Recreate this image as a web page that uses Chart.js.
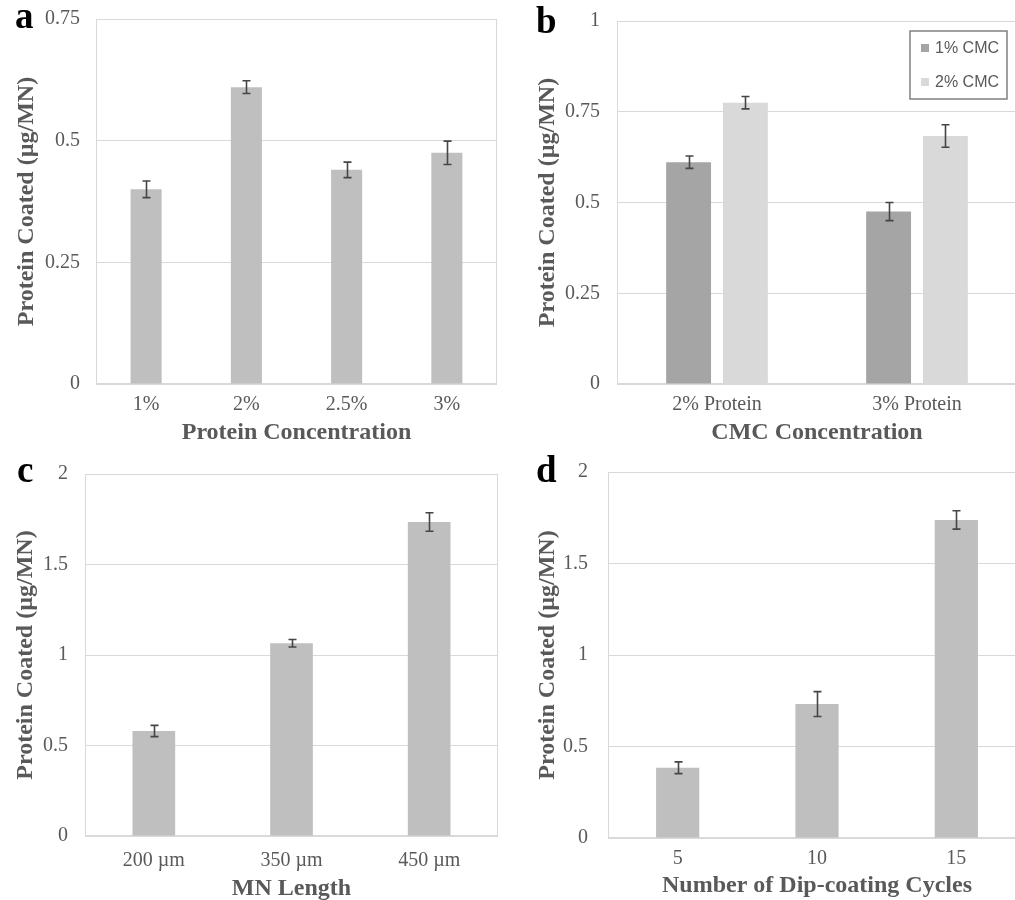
<!DOCTYPE html>
<html>
<head>
<meta charset="utf-8">
<script src="https://cdn.jsdelivr.net/npm/chart.js@4.4.0/dist/chart.umd.min.js"></script>
<style>
  html, body { margin: 0; padding: 0; background: #fff; width: 1015px; height: 900px; overflow: hidden; position: relative; }
  canvas { position: absolute; }
</style>
</head>
<body>
<canvas id="panelA" width="500" height="450" style="left:0;top:0"></canvas>
<canvas id="panelB" width="530" height="450" style="left:500px;top:0"></canvas>
<canvas id="panelC" width="500" height="470" style="left:0;top:450px"></canvas>
<canvas id="panelD" width="530" height="470" style="left:500px;top:450px"></canvas>
<script>
// (a) protein concentration
const concLabels = ['1%', '2%', '2.5%', '3%'];
const concValues = [0.40, 0.61, 0.44, 0.475];
const concErrors = [0.017, 0.013, 0.016, 0.024];

// (b) CMC concentration
const cmcLabels = ['2% Protein', '3% Protein'];
const cmc1Values = [0.611, 0.475];
const cmc1Errors = [0.017, 0.025];
const cmc2Values = [0.775, 0.683];
const cmc2Errors = [0.017, 0.031];

// (c) microneedle length
const lengthLabels = ['200 µm', '350 µm', '450 µm'];
const lengthValues = [0.58, 1.065, 1.735];
const lengthErrors = [0.031, 0.021, 0.051];

// (d) dip-coating cycles
const cycleLabels = ['5', '10', '15'];
const cycleValues = [0.384, 0.732, 1.738];
const cycleErrors = [0.032, 0.068, 0.05];

// y-axis tick values
const ticksA = [0, 0.25, 0.5, 0.75];
const ticksB = [0, 0.25, 0.5, 0.75, 1];
const ticksCD = [0, 0.5, 1, 1.5, 2];

const TEXT = '#595959';
const GRID = '#d9d9d9';
const SERIF = '"Liberation Serif", "Times New Roman", serif';

Chart.defaults.animation = false;
Chart.defaults.devicePixelRatio = 1;

// light frame around the plotting area
const frame = {
  id: 'frame',
  beforeDatasetsDraw(chart) {
    const { ctx, chartArea: a } = chart;
    ctx.save();
    ctx.strokeStyle = GRID;
    ctx.lineWidth = 1;
    ctx.strokeRect(Math.round(a.left) + 0.5, Math.round(a.top) + 0.5,
      Math.round(a.right - a.left) - 1, Math.round(a.bottom - a.top) - 1);
    ctx.restore();
  }
};

// symmetric error bars with caps
const errorBars = {
  id: 'errorBars',
  afterDatasetsDraw(chart) {
    const { ctx } = chart;
    const y = chart.scales.y;
    ctx.save();
    ctx.strokeStyle = '#454545';
    ctx.lineWidth = 1.6;
    chart.data.datasets.forEach((ds, i) => {
      if (!ds.errors) return;
      chart.getDatasetMeta(i).data.forEach((bar, j) => {
        const v = ds.data[j], e = ds.errors[j];
        const t = y.getPixelForValue(v + e), b = y.getPixelForValue(v - e);
        const x = Math.round(bar.x) + 0.5;
        ctx.beginPath();
        ctx.moveTo(x, t); ctx.lineTo(x, b);
        ctx.moveTo(x - 4, t); ctx.lineTo(x + 4, t);
        ctx.moveTo(x - 4, b); ctx.lineTo(x + 4, b);
        ctx.stroke();
      });
    });
    ctx.restore();
  }
};

// bold panel letter
const panelLetter = {
  id: 'panelLetter',
  afterDraw(chart, args, opts) {
    const { ctx } = chart;
    ctx.save();
    ctx.fillStyle = '#000';
    ctx.font = 'bold 37px ' + SERIF;
    ctx.textBaseline = 'alphabetic';
    ctx.fillText(opts.text, opts.x, opts.y);
    ctx.restore();
  }
};

// boxed legend in the top-right corner of the plot
const boxLegend = {
  id: 'boxLegend',
  afterDraw(chart, args, opts) {
    if (!opts.show) return;
    const { ctx, chartArea: a } = chart;
    const w = 97, h = 68;
    const x0 = a.right - 107, y0 = a.top + 10;
    ctx.save();
    ctx.strokeStyle = '#808080';
    ctx.lineWidth = 1.5;
    ctx.strokeRect(x0, y0, w, h);
    ctx.font = '16px "Liberation Sans", Arial, sans-serif';
    ctx.textBaseline = 'middle';
    chart.data.datasets.forEach((ds, i) => {
      const cy = y0 + 17 + i * 34;
      ctx.fillStyle = ds.backgroundColor;
      ctx.fillRect(x0 + 11, cy - 4, 8, 8);
      ctx.fillStyle = TEXT;
      ctx.fillText(ds.label, x0 + 25, cy + 1);
    });
    ctx.restore();
  }
};

function panel(id, labels, datasets, yTicks, xTitle, geo, bars) {
  new Chart(document.getElementById(id), {
    type: 'bar',
    data: { labels, datasets },
    options: {
      responsive: false,
      layout: { padding: { left: geo.padLeft, top: geo.padTop, right: geo.padRight, bottom: 0 } },
      datasets: { bar: { categoryPercentage: bars.cat, barPercentage: bars.bar } },
      plugins: {
        legend: { display: false },
        tooltip: { enabled: false },
        panelLetter: { text: geo.letter, x: geo.letterX, y: geo.letterY },
        boxLegend: { show: !!geo.legend }
      },
      scales: {
        x: {
          afterFit: s => { s.height = geo.xHeight; s.paddingLeft = 0; s.paddingRight = 0; },
          grid: { display: false, drawTicks: false },
          border: { display: false },
          ticks: { padding: geo.xTickPad, color: TEXT, font: { family: SERIF, size: 20 }, maxRotation: 0, autoSkip: false },
          title: { display: true, text: xTitle, color: TEXT, font: { family: SERIF, size: 24, weight: 'bold' }, padding: { top: 0, bottom: geo.xTitlePad } }
        },
        y: {
          min: yTicks[0],
          max: yTicks[yTicks.length - 1],
          afterBuildTicks: s => { s.ticks = yTicks.map(v => ({ value: v })); },
          afterFit: s => { s.width = geo.yWidth; s.paddingTop = 0; s.paddingBottom = 0; },
          grid: { color: GRID, lineWidth: 1, drawTicks: false },
          border: { display: false },
          ticks: { padding: geo.yTickPad, color: TEXT, font: { family: SERIF, size: 20 }, callback: v => String(v) },
          title: { display: true, text: 'Protein Coated (µg/MN)', color: TEXT, font: { family: SERIF, size: 24, weight: 'bold' }, padding: { top: geo.yTitlePad, bottom: 0 } }
        }
      }
    },
    plugins: [frame, errorBars, panelLetter, boxLegend]
  });
}

const single = { cat: 1, bar: 0.31 };

panel('panelA', concLabels,
  [{ label: 'Protein', data: concValues, errors: concErrors, backgroundColor: '#bfbfbf' }],
  ticksA, 'Protein Concentration',
  { padLeft: 0, padTop: 19, padRight: 3, yWidth: 96, xHeight: 66, yTickPad: 16, xTickPad: 8.5, yTitlePad: 12.6, xTitlePad: 2.6, letter: 'a', letterX: 15, letterY: 28 },
  single);

panel('panelB', cmcLabels,
  [
    { label: '1% CMC', data: cmc1Values, errors: cmc1Errors, backgroundColor: '#a5a5a5' },
    { label: '2% CMC', data: cmc2Values, errors: cmc2Errors, backgroundColor: '#d9d9d9' }
  ],
  ticksB, 'CMC Concentration',
  { padLeft: 21, padTop: 21, padRight: 13, yWidth: 96, xHeight: 66, yTickPad: 17, xTickPad: 8.5, yTitlePad: 12.6, xTitlePad: 2.6, letter: 'b', letterX: 36, letterY: 33, legend: true },
  { cat: 0.568, bar: 0.79 });

panel('panelC', lengthLabels,
  [{ label: 'MN length', data: lengthValues, errors: lengthErrors, backgroundColor: '#bfbfbf' }],
  ticksCD, 'MN Length',
  { padLeft: 0, padTop: 24, padRight: 2, yWidth: 85, xHeight: 84, yTickPad: 17, xTickPad: 12.5, yTitlePad: 11.6, xTitlePad: 16.6, letter: 'c', letterX: 17, letterY: 32 },
  single);

panel('panelD', cycleLabels,
  [{ label: 'Cycles', data: cycleValues, errors: cycleErrors, backgroundColor: '#bfbfbf' }],
  ticksCD, 'Number of Dip-coating Cycles',
  { padLeft: 21, padTop: 22, padRight: 4, yWidth: 87, xHeight: 82, yTickPad: 20, xTickPad: 8.5, yTitlePad: 12.6, xTitlePad: 19.6, letter: 'd', letterX: 36, letterY: 32 },
  single);
</script>
</body>
</html>
